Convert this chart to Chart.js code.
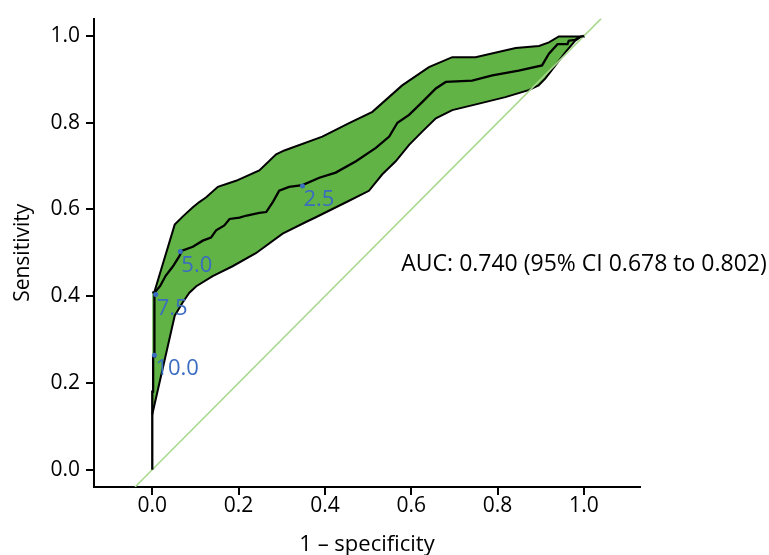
<!DOCTYPE html>
<html>
<head>
<meta charset="utf-8">
<script src="https://cdn.jsdelivr.net/npm/chart.js@4.4.0/dist/chart.umd.min.js"></script>
<style>
body { margin: 0; background: #fff; }
#wrap { width: 769px; height: 555px; }
</style>
</head>
<body>
<div id="wrap"><canvas id="myChart" width="769" height="555"></canvas></div>
<script>
// ROC curve (1 - specificity, sensitivity)
var rocX = [0, 0, 0.002, 0.002, 0.005, 0.005, 0.018, 0.031, 0.048, 0.062, 0.069, 0.094, 0.117, 0.136, 0.148, 0.167, 0.179, 0.202, 0.219, 0.248, 0.264, 0.28, 0.294, 0.317, 0.348, 0.387, 0.425, 0.472, 0.518, 0.549, 0.568, 0.595, 0.626, 0.657, 0.68, 0.741, 0.788, 0.849, 0.903, 0.919, 0.939, 0.962, 0.965, 0.98, 0.988, 1.0];
var rocY = [0, 0.18, 0.18, 0.26, 0.26, 0.408, 0.423, 0.447, 0.469, 0.491, 0.505, 0.514, 0.528, 0.535, 0.552, 0.563, 0.578, 0.581, 0.586, 0.592, 0.594, 0.618, 0.643, 0.652, 0.656, 0.673, 0.685, 0.711, 0.742, 0.768, 0.8, 0.818, 0.848, 0.879, 0.894, 0.897, 0.909, 0.92, 0.932, 0.959, 0.981, 0.981, 0.989, 0.991, 0.997, 1.0];
// 95% CI band
var upperX = [0, 0.005, 0.052, 0.071, 0.094, 0.109, 0.125, 0.152, 0.194, 0.248, 0.287, 0.306, 0.394, 0.456, 0.51, 0.579, 0.641, 0.695, 0.749, 0.842, 0.896, 0.919, 0.942, 1.0];
var upperY = [0.408, 0.41, 0.565, 0.584, 0.605, 0.617, 0.628, 0.652, 0.666, 0.69, 0.727, 0.736, 0.768, 0.799, 0.825, 0.886, 0.928, 0.951, 0.951, 0.972, 0.977, 0.985, 0.999, 0.999];
var lowerX = [0, 0.052, 0.07, 0.086, 0.102, 0.14, 0.186, 0.24, 0.302, 0.356, 0.379, 0.456, 0.502, 0.533, 0.564, 0.595, 0.626, 0.657, 0.695, 0.757, 0.818, 0.872, 0.895, 0.911, 0.934, 0.957, 0.98, 0.992, 1.0];
var lowerY = [0.127, 0.355, 0.385, 0.408, 0.423, 0.446, 0.469, 0.499, 0.544, 0.571, 0.582, 0.62, 0.643, 0.681, 0.711, 0.749, 0.78, 0.81, 0.829, 0.844, 0.859, 0.875, 0.886, 0.902, 0.932, 0.962, 0.989, 0.997, 1.0];
// cut-off points
var cutLabels = ["2.5", "5.0", "7.5", "10.0"];
var cutX = [0.348, 0.065, 0.008, 0.005];
var cutY = [0.654, 0.503, 0.404, 0.264];
var tickValues = [0, 0.2, 0.4, 0.6, 0.8, 1.0];
var aucText = "AUC: 0.740 (95% CI 0.678 to 0.802)";

var FONT = "'Open Sans', sans-serif";

function toPoints(xs, ys) {
    var pts = [];
    for (var i = 0; i < xs.length; i++) {
        pts.push({x: xs[i], y: ys[i]});
    }
    return pts;
}

// band polygon: lower forward, upper back
var band = toPoints(lowerX, lowerY).concat(toPoints(upperX, upperY).reverse());

var textPlugin = {
    id: 'texts',
    afterDatasetsDraw: function (chart) {
        var ctx = chart.ctx, xs = chart.scales.x, ys = chart.scales.y;
        ctx.save();
        ctx.fillStyle = '#3a6cc0';
        ctx.font = "22px " + FONT;
        ctx.textAlign = 'left';
        ctx.textBaseline = 'middle';
        for (var i = 0; i < cutLabels.length; i++) {
            ctx.fillText(cutLabels[i], xs.getPixelForValue(cutX[i]) + 1, ys.getPixelForValue(cutY[i]) + 14);
        }
        ctx.fillStyle = '#000';
        ctx.font = "23px " + FONT;
        ctx.fillText(aucText, xs.getPixelForValue(0.577), ys.getPixelForValue(0.474));
        ctx.restore();
    }
};

var ctx = document.getElementById("myChart").getContext('2d');
var chart = new Chart(ctx, {
    type: 'line',
    data: {
        datasets: [{
            data: band,
            fill: 'shape',
            backgroundColor: '#62b346',
            borderColor: '#000',
            borderWidth: 2,
            pointRadius: 0,
            tension: 0,
            order: 4
        }, {
            data: [{x: -0.04, y: -0.04}, {x: 1.04, y: 1.04}],
            borderColor: '#a8d98f',
            borderWidth: 1.5,
            pointRadius: 0,
            fill: false,
            order: 3
        }, {
            data: toPoints(rocX, rocY),
            borderColor: '#000',
            borderWidth: 2.3,
            pointRadius: 0,
            fill: false,
            order: 2
        }, {
            data: toPoints(cutX, cutY),
            showLine: false,
            pointRadius: 2.5,
            pointBackgroundColor: '#3a6cc0',
            pointBorderWidth: 0,
            order: 1
        }]
    },
    options: {
        responsive: false,
        animation: false,
        layout: {padding: {left: 0, right: 129, top: 13, bottom: 0}},
        plugins: {legend: {display: false}, tooltip: {enabled: false}},
        scales: {
            x: {
                type: 'linear',
                min: -0.135,
                max: 1.13,
                afterBuildTicks: function (scale) {
                    scale.ticks = tickValues.map(function (v) { return {value: v}; });
                },
                afterFit: function (scale) { scale.height = 68; },
                grid: {drawOnChartArea: false, tickLength: 8, tickColor: '#000', lineWidth: 2},
                border: {color: '#000', width: 2},
                ticks: {
                    autoSkip: false, maxRotation: 0, padding: -2, color: '#000',
                    font: {family: FONT, size: 21},
                    callback: function (v) { return v.toFixed(1); }
                },
                title: {display: true, text: '1 – specificity', color: '#000',
                    font: {family: FONT, size: 22, lineHeight: 1}, padding: {top: 0, bottom: -1}}
            },
            y: {
                min: -0.04,
                max: 1.04,
                afterBuildTicks: function (scale) {
                    scale.ticks = tickValues.map(function (v) { return {value: v}; });
                },
                afterFit: function (scale) { scale.width = 94; },
                grid: {drawOnChartArea: false, tickLength: 8, tickColor: '#000', lineWidth: 2},
                border: {color: '#000', width: 2},
                ticks: {
                    autoSkip: false, padding: 6, color: '#000',
                    font: {family: FONT, size: 21},
                    callback: function (v) { return v.toFixed(1); }
                },
                title: {display: true, text: 'Sensitivity', color: '#000',
                    font: {family: FONT, size: 21, lineHeight: 1}, padding: {top: 13, bottom: 0}}
            }
        }
    },
    plugins: [textPlugin]
});
</script>
</body>
</html>
